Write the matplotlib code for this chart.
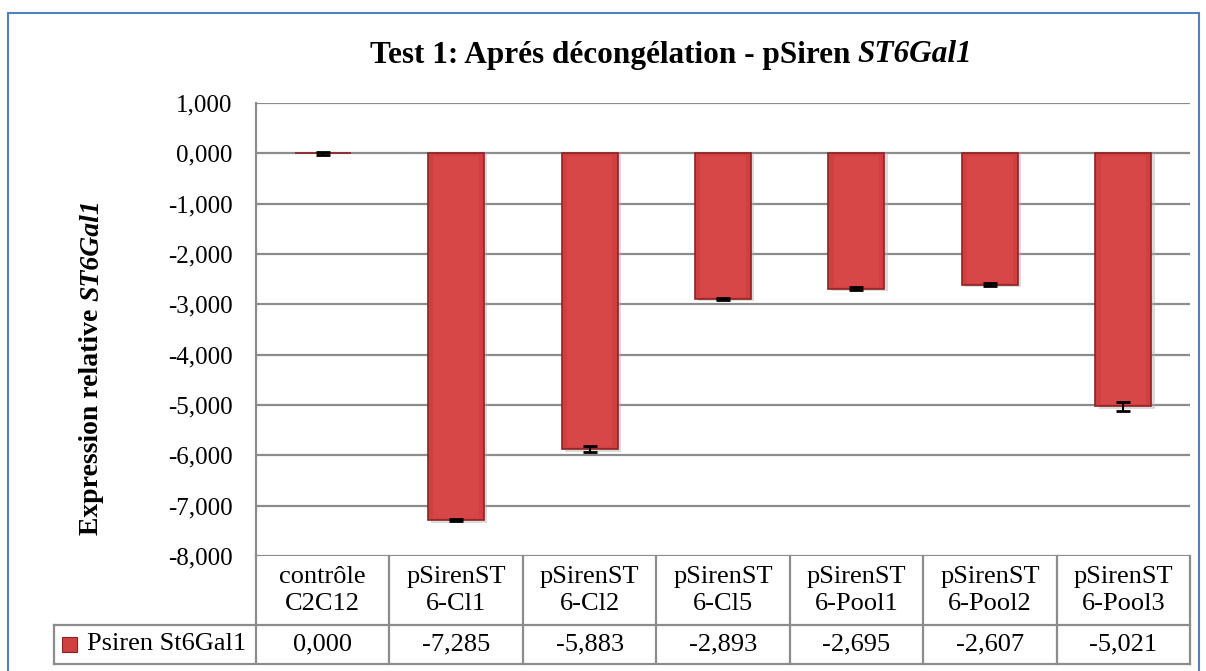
import matplotlib.pyplot as plt
from matplotlib.patches import Rectangle
from matplotlib.lines import Line2D
import matplotlib.transforms as mtransforms

plt.rcParams["font.family"] = ["Liberation Serif", "DejaVu Serif"]

categories = ["contrôle\nC2C12", "pSirenST\n6-Cl1", "pSirenST\n6-Cl2", "pSirenST\n6-Cl5",
              "pSirenST\n6-Pool1", "pSirenST\n6-Pool2", "pSirenST\n6-Pool3"]
values = [0.000, -7.285, -5.883, -2.893, -2.695, -2.607, -5.021]
errors = [0.03, 0.02, 0.06, 0.02, 0.03, 0.03, 0.09]
series_name = "Psiren St6Gal1"
yticks = [1, 0, -1, -2, -3, -4, -5, -6, -7, -8]

def fmt(v):
    return f"{v:.3f}".replace(".", ",")

W, H = 1206, 671
fig = plt.figure(figsize=(W / 100, H / 100), dpi=100, facecolor="w")
ax = fig.add_axes([256 / W, 1 - 556 / H, (1190 - 256) / W, (556 - 103) / H])

x = list(range(len(categories)))
bar_col = "#cf4040"
edge_col = "#8e2222"
# soft shadow under each bar
ax.bar([xi + 0.025 for xi in x], [v - 0.05 if v < 0 else v for v in values], width=0.42,
       color="#b0b0b0", alpha=0.45, zorder=2)
ax.bar(x, values, width=0.42, color=bar_col, edgecolor=edge_col, linewidth=1.2, zorder=3)
# lighter inner face for a bevelled look
ax.bar(x, [v + 0.1 if v < 0 else 0 for v in values], width=0.34,
       bottom=[-0.06 if v < 0 else 0 for v in values],
       color="#d84747", linewidth=0, zorder=3.5)
ax.errorbar(x, values, yerr=errors, fmt="none", ecolor="black", elinewidth=1.5,
            capsize=5, capthick=2, zorder=5)

ax.set_xlim(-0.5, len(categories) - 0.5)
ax.set_ylim(-8, 1)
ax.set_yticks(yticks)
ax.set_yticklabels([fmt(t) for t in yticks], fontsize=18)
ax.tick_params(axis="y", length=0, pad=17)
ax.set_xticks([])
ax.grid(axis="y", color="#8c8c8c", linewidth=1.6, zorder=0)
ax.set_axisbelow(True)
for s in ["top", "right", "bottom"]:
    ax.spines[s].set_visible(False)
ax.spines["left"].set_color("#8c8c8c")
ax.spines["left"].set_linewidth(1.6)

fig.canvas.draw()
rend = fig.canvas.get_renderer()

# y label: plain part plus italic gene name, stacked along the rotated baseline
yl1 = fig.text(0, 0, "Expression relative ", rotation=90, fontsize=20, fontweight="bold",
               ha="center", va="bottom")
yl2 = fig.text(0, 0, "ST6Gal1", rotation=90, fontsize=20, fontweight="bold",
               style="italic", ha="center", va="bottom")
h1 = yl1.get_window_extent(rend).height
h2 = yl2.get_window_extent(rend).height
ybot = 367 + (h1 + h2) / 2
yl1.set_position((92 / W, 1 - ybot / H))
yl2.set_position((92 / W, 1 - (ybot - h1) / H))

# title, with the gene name in italics
t1 = fig.text(0, 1 - 55 / H, "Test 1: Aprés décongélation - pSiren ", fontsize=22.5,
              fontweight="bold", ha="left", va="center")
t2 = fig.text(0, 1 - 55 / H, "ST6Gal1", fontsize=22.5, fontweight="bold", style="italic",
              ha="left", va="center")
w1 = t1.get_window_extent(rend).width
w2 = t2.get_window_extent(rend).width
left = 671 - (w1 + w2) / 2
t1.set_x(left / W)
t2.set_x((left + w1) / W)

# data table below the axes
trans = mtransforms.blended_transform_factory(ax.transData, fig.transFigure)
gcol = "#8c8c8c"
y_top = 1 - 556 / H
y_mid = 1 - 625 / H
y_bot = 1 - 664 / H
for xi in range(len(categories) + 1):
    fig.add_artist(Line2D([xi - 0.5, xi - 0.5], [y_bot, y_top], transform=trans,
                          color=gcol, linewidth=1.6))
for yy in [y_mid, y_bot]:
    fig.add_artist(Line2D([54 / W, 1190 / W], [yy, yy], color=gcol, linewidth=1.6))
fig.add_artist(Line2D([54 / W, 54 / W], [y_bot, y_mid], color=gcol, linewidth=1.6))
for xi, c, v in zip(x, categories, values):
    fig.text(xi, (y_top + y_mid) / 2, c, transform=trans, ha="center", va="center",
             fontsize=19, linespacing=1.3)
    fig.text(xi, (y_mid + y_bot) / 2, fmt(v), transform=trans, ha="center",
             va="center", fontsize=19)
fig.add_artist(Rectangle((62 / W, 1 - 652 / H), 15 / W, 15 / H, facecolor=bar_col,
                         edgecolor=edge_col, linewidth=0.8))
fig.text(87 / W, (y_mid + y_bot) / 2, series_name, ha="left", va="center", fontsize=19)

# outer frame
fig.add_artist(Rectangle((8 / W, -5 / H), 1191 / W, (H - 13 + 5) / H, fill=False,
                         edgecolor="#4f81bd", linewidth=1.5))

fig.savefig("out.png", dpi=100)
